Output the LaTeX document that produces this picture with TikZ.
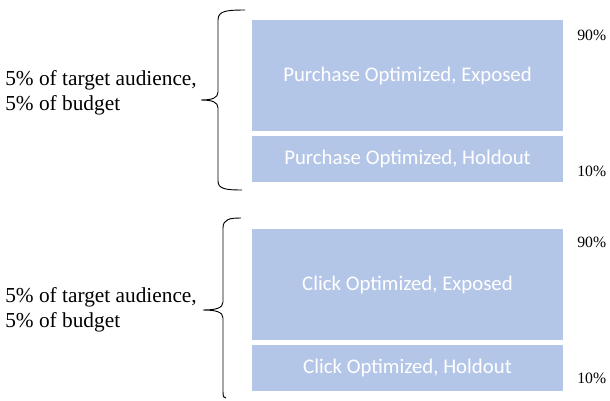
\documentclass[tikz,border=0pt]{standalone}
\usepackage{fontspec}
\setmainfont{Liberation Serif}
\newfontfamily\boxfont{Carlito}
\definecolor{boxblue}{HTML}{B4C6E7}
\begin{document}
\begin{tikzpicture}[x=0.75pt,y=-0.75pt,
  bar/.style={fill=boxblue,draw=none,inner sep=0pt,text=white,font=\boxfont\fontsize{15.6}{18}\selectfont},
  pct/.style={font=\fontsize{11.8}{14}\selectfont,inner sep=0pt,anchor=west},
  lbl/.style={font=\fontsize{16}{19}\selectfont,align=left,anchor=west,inner sep=0pt},
  brace/.style={draw=black,line width=0.7pt}]
\useasboundingbox (0,0) rectangle (610,400);
% group 1
\node[bar,minimum width=311*0.75pt,minimum height=111*0.75pt] (pe) at (407.5,75.5) {Purchase Optimized, Exposed};
\node[bar,minimum width=311*0.75pt,minimum height=46*0.75pt] (ph) at (407.5,159) {Purchase Optimized, Holdout};
\node[pct] (p90a) at (577,35) {90\%};
\node[pct] (p10a) at (577,171) {10\%};
\node[lbl] (la) at (5,93) {5\% of target audience,\\5\% of budget};
\draw[brace] (245,10) .. controls (226,10) and (218,11) .. (218,20) -- (218,92)
  .. controls (218,98) and (212,100) .. (201,100)
  .. controls (212,100) and (218,102) .. (218,108) -- (218,181)
  .. controls (218,189) and (226,190) .. (242,190);
% group 2
\node[bar,minimum width=311*0.75pt,minimum height=111*0.75pt] (ce) at (407.5,284.5) {Click Optimized, Exposed};
\node[bar,minimum width=311*0.75pt,minimum height=46*0.75pt] (ch) at (407.5,368) {Click Optimized, Holdout};
\node[pct] (p90b) at (577,242) {90\%};
\node[pct] (p10b) at (577,378) {10\%};
\node[lbl] (lb) at (5,310) {5\% of target audience,\\5\% of budget};
\draw[brace] (241,218) .. controls (230,218) and (223,219) .. (223,228) -- (223,302)
  .. controls (223,308) and (216,310) .. (203,310)
  .. controls (216,310) and (223,312) .. (223,318) -- (223,392)
  .. controls (223,397) and (224,398) .. (226,398);
\end{tikzpicture}
\end{document}
